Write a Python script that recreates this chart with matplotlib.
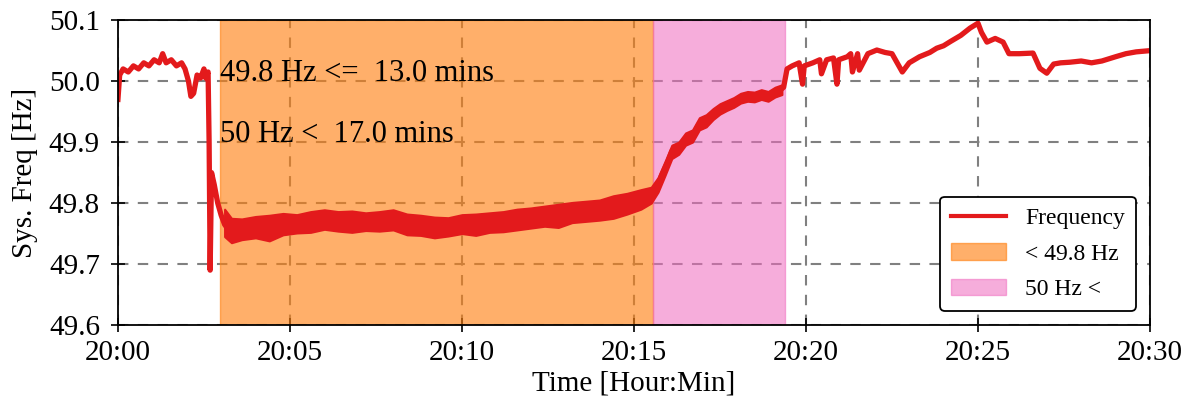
import numpy as np
import matplotlib
matplotlib.use('Agg')
import matplotlib.pyplot as plt
import matplotlib.dates as mdates
from matplotlib.patches import Patch
from matplotlib.lines import Line2D
from datetime import datetime, timedelta

# minutes after 20:00 and system frequency [Hz]
minutes = [0.0, 0.05, 0.15, 0.3, 0.45, 0.6, 0.75, 0.9, 1.05, 1.2, 1.3, 1.4,
           1.55, 1.7, 1.85, 1.95, 2.05, 2.12, 2.2, 2.3, 2.4, 2.5, 2.55, 2.62,
           2.65, 2.68, 2.72, 2.8, 2.9, 3.0, 3.1, 3.2, 3.5, 4.0, 4.5, 5.0,
           5.5, 6.0, 6.5, 7.0, 7.5, 8.0, 8.5, 9.0, 9.5, 10.0, 10.5, 11.0,
           11.5, 12.0, 12.5, 13.0, 13.5, 14.0, 14.5, 15.0, 15.5, 15.7, 15.8,
           16.0, 16.1, 16.3, 16.5, 16.7, 16.9, 17.1, 17.3, 17.5, 17.7, 17.9,
           18.1, 18.3, 18.5, 18.7, 18.9, 19.1, 19.25, 19.35, 19.45, 19.6,
           19.8, 19.9, 19.95, 20.2, 20.4, 20.45, 20.6, 20.8, 20.9, 20.95,
           21.2, 21.3, 21.35, 21.5, 21.55, 21.8, 22.06, 22.3, 22.5, 22.8,
           23.0, 23.3, 23.6, 23.8, 24.0, 24.2, 24.5, 24.77, 25.0, 25.1,
           25.26, 25.5, 25.73, 25.9, 26.2, 26.6, 26.8, 27.0, 27.2, 27.4,
           27.67, 28.0, 28.3, 28.6, 29.0, 29.3, 29.6, 30.0]
freq = [49.97, 50.01, 50.02, 50.015, 50.025, 50.02, 50.03, 50.025, 50.035,
        50.03, 50.045, 50.03, 50.035, 50.025, 50.03, 50.02, 50.0, 49.975,
        49.98, 50.01, 50.005, 50.02, 50.005, 50.015, 49.9, 49.69, 49.85,
        49.83, 49.8, 49.78, 49.765, 49.757, 49.756, 49.758, 49.762, 49.765,
        49.768, 49.772, 49.771, 49.770, 49.770, 49.771, 49.765, 49.762,
        49.760, 49.764, 49.766, 49.768, 49.772, 49.775, 49.779, 49.782,
        49.786, 49.790, 49.797, 49.803, 49.812, 49.83, 49.845, 49.87, 49.885,
        49.89, 49.905, 49.91, 49.93, 49.935, 49.945, 49.955, 49.96, 49.965,
        49.972, 49.975, 49.974, 49.978, 49.975, 49.982, 49.985, 49.99, 50.02,
        50.025, 50.03, 49.995, 50.025, 50.03, 50.035, 50.012, 50.035, 50.038,
        49.995, 50.035, 50.04, 50.045, 50.015, 50.045, 50.018, 50.045, 50.051,
        50.047, 50.045, 50.015, 50.03, 50.04, 50.047, 50.054, 50.058, 50.065,
        50.075, 50.087, 50.095, 50.08, 50.064, 50.07, 50.064, 50.045, 50.045,
        50.046, 50.021, 50.013, 50.028, 50.03, 50.031, 50.033, 50.03, 50.033,
        50.04, 50.045, 50.048, 50.05]

# noisy band while the frequency sits low and recovers
band_min = [3.1, 3.3, 3.6, 4.0, 4.4, 4.8, 5.2, 5.6, 6.0, 6.4, 6.8, 7.2, 7.6,
            8.0, 8.4, 8.8, 9.2, 9.6, 10.0, 10.4, 10.8, 11.2, 11.6, 12.0,
            12.4, 12.8, 13.2, 13.6, 14.0, 14.4, 14.8, 15.2, 15.5, 15.7, 15.9,
            16.1, 16.3, 16.5, 16.7, 16.9, 17.1, 17.3, 17.5, 17.7, 17.9, 18.1,
            18.3, 18.5, 18.7, 18.9, 19.1, 19.3]
band_lo = [49.745, 49.735, 49.740, 49.743, 49.738, 49.748, 49.751, 49.752,
           49.757, 49.754, 49.752, 49.755, 49.754, 49.756, 49.748, 49.747,
           49.743, 49.746, 49.750, 49.747, 49.752, 49.753, 49.756, 49.759,
           49.762, 49.760, 49.768, 49.770, 49.772, 49.775, 49.782, 49.790,
           49.800, 49.818, 49.845, 49.873, 49.880, 49.895, 49.900, 49.920,
           49.925, 49.937, 49.946, 49.952, 49.957, 49.964, 49.967, 49.966,
           49.970, 49.967, 49.974, 49.978]
band_hi = [49.790, 49.775, 49.774, 49.778, 49.780, 49.783, 49.781, 49.786,
           49.789, 49.786, 49.787, 49.784, 49.786, 49.789, 49.782, 49.780,
           49.777, 49.776, 49.781, 49.782, 49.784, 49.786, 49.790, 49.792,
           49.795, 49.798, 49.801, 49.803, 49.805, 49.812, 49.816, 49.822,
           49.826, 49.842, 49.868, 49.895, 49.900, 49.915, 49.920, 49.940,
           49.945, 49.955, 49.963, 49.968, 49.973, 49.980, 49.983, 49.982,
           49.986, 49.983, 49.990, 49.994]

under_start, under_end = 2.97, 15.55
over_end = 19.38

base = datetime(2020, 1, 1, 20, 0)
to_dt = lambda m: [base + timedelta(minutes=x) for x in m]
t = to_dt(minutes)
tb = to_dt(band_min)

plt.rcParams['font.family'] = 'serif'
plt.rcParams['font.serif'] = ['Liberation Serif', 'DejaVu Serif']
plt.rcParams['font.size'] = 21

fig = plt.figure(figsize=(11.89, 4.03), dpi=100)
ax = fig.add_axes([0.0992, 0.1935, 0.8680, 0.7565])

ax.grid(True, linestyle=(0, (5, 4.5)), color='#808080', linewidth=1.5)
ax.axvspan(to_dt([under_start])[0], to_dt([under_end])[0], color='#ff7f0e',
           alpha=0.62, lw=1, zorder=2)
ax.axvspan(to_dt([under_end])[0], to_dt([over_end])[0], color='#f06bbf',
           alpha=0.55, lw=1, zorder=2)
ax.fill_between(tb, band_lo, band_hi, color='#e31a1c', lw=1.5, zorder=3)
ax.plot(t, freq, color='#e31a1c', lw=3.8, zorder=3)

ax.text(to_dt([under_start])[0], 50.0, '49.8 Hz <=  13.0 mins',
        va='baseline', ha='left', fontsize=22, zorder=4)
ax.text(to_dt([under_start])[0], 49.9, '50 Hz <  17.0 mins',
        va='baseline', ha='left', fontsize=22, zorder=4)

ax.set_xlim(base, base + timedelta(minutes=30))
ax.set_ylim(49.6, 50.1)
ax.xaxis.set_major_locator(mdates.MinuteLocator(byminute=range(0, 60, 5)))
ax.xaxis.set_major_formatter(mdates.DateFormatter('%H:%M'))
ax.set_yticks([49.6, 49.7, 49.8, 49.9, 50.0, 50.1])
ax.yaxis.set_major_formatter(plt.FormatStrFormatter('%.1f'))
ax.tick_params(direction='inout', length=10, width=1.2, labelsize=21)
ax.tick_params(axis='x', pad=6)
ax.tick_params(axis='y', pad=8)
for s in ax.spines.values():
    s.set_linewidth(1.3)
    s.set_zorder(5)

ax.set_xlabel('Time [Hour:Min]', fontsize=21, labelpad=3)
ax.set_ylabel('Sys. Freq [Hz]', fontsize=21, labelpad=8)

handles = [Line2D([], [], color='#e31a1c', lw=3),
           Patch(facecolor='#ff7f0e', edgecolor='#ff7f0e', alpha=0.62),
           Patch(facecolor='#f06bbf', edgecolor='#f06bbf', alpha=0.55)]
leg = ax.legend(handles, ['Frequency', '< 49.8 Hz', '50 Hz <'],
                loc='lower right', fontsize=17, framealpha=1,
                edgecolor='black', fancybox=True, handlelength=2.35,
                borderpad=0.45, labelspacing=0.6, borderaxespad=0.6,
                bbox_to_anchor=(1.0, 0.0))
leg.get_frame().set_linewidth(1.3)
leg.set_zorder(6)

fig.savefig('out.png', dpi=100)
